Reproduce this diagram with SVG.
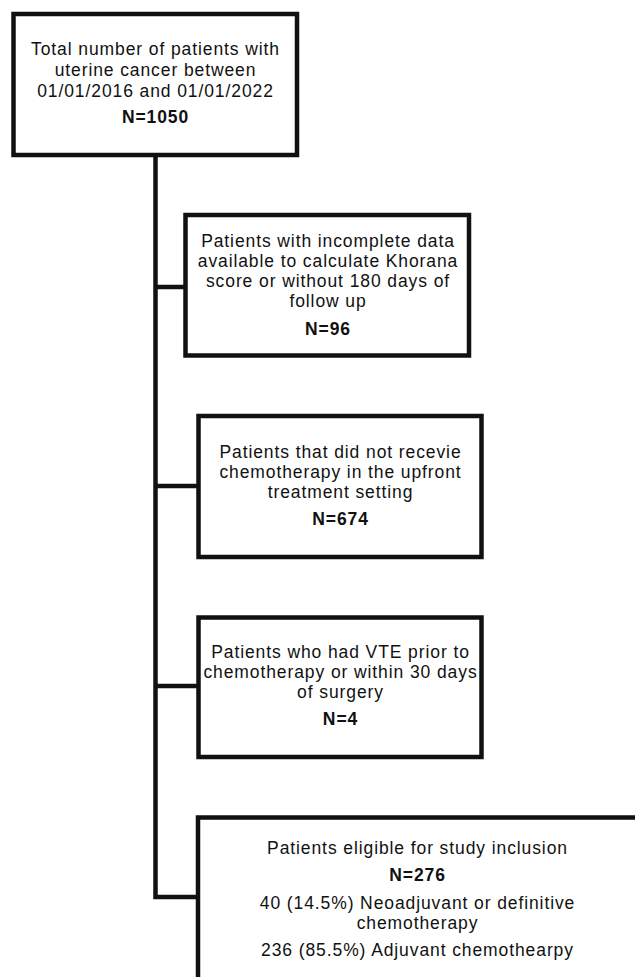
<svg xmlns="http://www.w3.org/2000/svg" width="635" height="977" viewBox="0 0 635 977">
<style>
.box{fill:#fff;stroke:#111;stroke-width:4.5}
.con{fill:none;stroke:#111;stroke-width:4.5}
text{font-family:"Liberation Sans",Arial,sans-serif;font-size:17.5px;letter-spacing:0.9px;fill:#111;text-anchor:middle}
.b{font-weight:bold}
</style>
<rect width="635" height="977" fill="#fff"/>
<g id="connectors">
<path class="con" d="M155.5 155 V897 H198"/>
<path class="con" d="M155.5 287 H186"/>
<path class="con" d="M155.5 486 H198"/>
<path class="con" d="M155.5 686 H198"/>
</g>
<g id="n1">
<rect class="box" x="13.5" y="14" width="283.5" height="141"/>
<text x="155.5" y="55">Total number of patients with</text>
<text x="155.5" y="76">uterine cancer between</text>
<text x="155.5" y="97">01/01/2016 and 01/01/2022</text>
<text class="b" x="155.5" y="123">N=1050</text>
</g>
<g id="n2">
<rect class="box" x="185.5" y="215" width="283.5" height="140.5"/>
<text x="328" y="247">Patients with incomplete data</text>
<text x="328" y="267">available to calculate Khorana</text>
<text x="328" y="287">score or without 180 days of</text>
<text x="328" y="307">follow up</text>
<text class="b" x="328" y="335">N=96</text>
</g>
<g id="n3">
<rect class="box" x="198.5" y="416" width="283" height="141"/>
<text x="340.5" y="458">Patients that did not recevie</text>
<text x="340.5" y="478">chemotherapy in the upfront</text>
<text x="340.5" y="498">treatment setting</text>
<text class="b" x="340.5" y="525">N=674</text>
</g>
<g id="n4">
<rect class="box" x="198.5" y="617.5" width="283" height="139.5"/>
<text x="340.5" y="658">Patients who had VTE prior to</text>
<text x="340.5" y="678">chemotherapy or within 30 days</text>
<text x="340.5" y="698">of surgery</text>
<text class="b" x="340.5" y="725">N=4</text>
</g>
<g id="n5">
<rect class="box" x="198" y="817.5" width="460" height="200"/>
<text x="417.5" y="854">Patients eligible for study inclusion</text>
<text class="b" x="417.5" y="881">N=276</text>
<text x="417.5" y="909">40 (14.5%) Neoadjuvant or definitive</text>
<text x="417.5" y="928.5">chemotherapy</text>
<text x="417.5" y="956">236 (85.5%) Adjuvant chemothearpy</text>
</g>
</svg>
